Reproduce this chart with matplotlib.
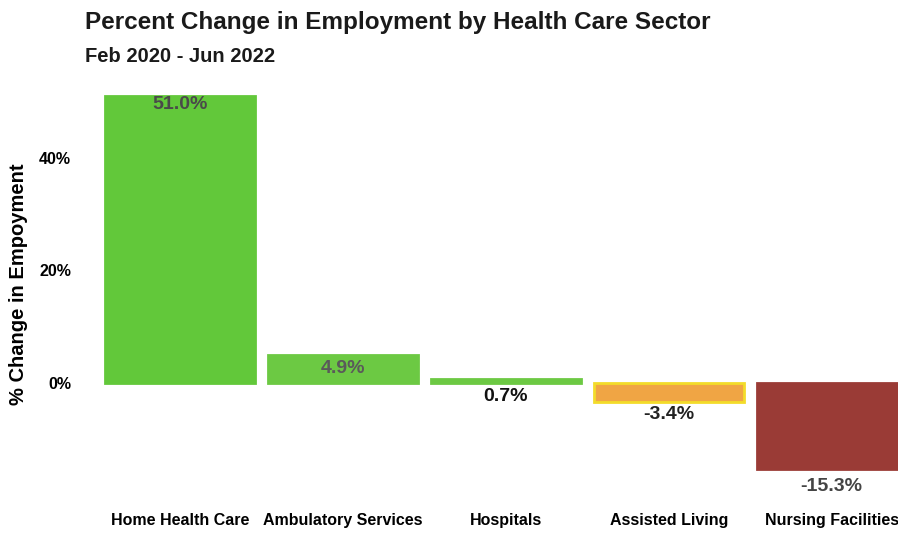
import matplotlib
matplotlib.use("Agg")
import matplotlib.pyplot as plt

categories = ["Home Health Care", "Ambulatory Services", "Hospitals", "Assisted Living", "Nursing Facilities"]
values = [51.0, 4.9, 0.7, -3.4, -15.3]
value_labels = ["51.0%", "4.9%", "0.7%", "-3.4%", "-15.3%"]
ytick_vals = [0, 20, 40]
ytick_labels = ["0%", "20%", "40%"]

fill_colors = ["#62c83a", "#6cc943", "#6cc943", "#f0a544", "#9a3b36"]
edge_colors = ["#62c83a", "#6cc943", "#6cc943", "#f3dc2a", "#9a3b36"]
label_colors = ["#4a4a4a", "#5a5a5a", "#111111", "#222222", "#444444"]
label_offsets_px = [-8, -13, -14, -12, -17]

plt.rcParams['font.family'] = ['Liberation Sans', 'DejaVu Sans']
W, H = 898, 533
fig = plt.figure(figsize=(W / 100, H / 100), dpi=100)
left_px, right_px = 90.4, 905.0
top_px, bot_px = 90.5, 478.6
ax = fig.add_axes([left_px / W, 1 - bot_px / H, (right_px - left_px) / W, (bot_px - top_px) / H])

x = list(range(len(categories)))
ax.bar(x, values, width=0.92, color=fill_colors, edgecolor=edge_colors, linewidth=2)
ax.set_xlim(-0.55, 4.45)
ax.set_ylim(-17, 52)

for i, (v, lab) in enumerate(zip(values, value_labels)):
    ref = v
    if i == 2:
        ref = 0
    ax.annotate(lab, xy=(i, ref), xytext=(0, label_offsets_px[i] * 0.72), textcoords="offset points",
                ha="center", va="center", fontsize=14, fontweight="bold", color=label_colors[i],
                annotation_clip=False)

ax.set_yticks(ytick_vals)
ax.set_yticklabels(ytick_labels, fontsize=11.5, fontweight="bold")
ax.set_xticks(x)
ax.set_xticklabels(categories, fontsize=11.5, fontweight="bold")
ax.tick_params(axis="both", length=0)
ax.tick_params(axis="y", pad=14)
ax.tick_params(axis="x", pad=25)
for s in ax.spines.values():
    s.set_visible(False)

ax.set_ylabel("% Change in Empoyment", fontsize=14.5, fontweight="bold", labelpad=8)

fig.text(85 / W, 1 - 22 / H, "Percent Change in Employment by Health Care Sector",
         fontsize=17.5, fontweight="bold", color="#1a1a1a", ha="left", va="center")
fig.text(85 / W, 1 - 56 / H, "Feb 2020 - Jun 2022", fontsize=14.5, fontweight="bold",
         color="#1a1a1a", ha="left", va="center")

fig.savefig("out.png", dpi=100)
